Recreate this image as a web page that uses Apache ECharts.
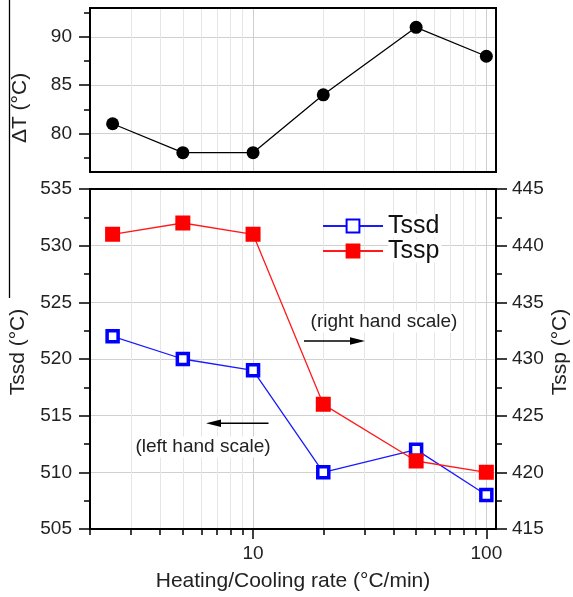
<!DOCTYPE html>
<html>
<head>
<meta charset="utf-8">
<script src="https://cdn.jsdelivr.net/npm/echarts@6/dist/echarts.min.js"></script>
<style>
html,body{margin:0;padding:0;background:#fff;}
#c{width:573px;height:597px;}
</style>
</head>
<body>
<div id="c"></div>
<script>
// ---- data ----
const rates = [2.5, 5, 10, 20, 50, 100];
const deltaT = [81, 78, 78, 84, 91, 88];
const tssd = [522, 520, 519, 510, 512, 508];
const tssp = [441, 442, 441, 426, 421, 420];
const xMajorTicks = [10, 100];
const xMinorTicks = [2, 3, 4, 5, 6, 7, 8, 9, 20, 30, 40, 50, 60, 70, 80, 90];
const dtMajorTicks = [80, 85, 90];
const dtMinorTicks = [77.5, 82.5, 87.5, 92.5];

const FONT = '"Liberation Sans", Arial, Helvetica, sans-serif';
const chart = echarts.init(document.getElementById('c'), null, {renderer: 'canvas'});

function pairs(xs, ys) { return xs.map((x, i) => [x, ys[i]]); }

const tickStyle = {color: '#000', width: 1.5};
const L = 90, W = 406;

function xMain(grid, labels, name) {
  return {
    type: 'log', logBase: 10, gridIndex: grid, min: 2, max: 110, position: 'bottom',
    axisLine: {show: false, onZero: false},
    axisTick: {show: labels, customValues: xMajorTicks, length: 10, lineStyle: tickStyle},
    axisLabel: {show: labels, customValues: xMajorTicks, fontSize: 19, fontFamily: FONT, color: '#222', margin: 15},
    splitLine: {show: true, lineStyle: {color: '#cfcfcf', width: 1}},
    name: name || '', nameLocation: 'middle', nameGap: 42,
    nameTextStyle: {fontSize: 21, fontFamily: FONT, color: '#222'}
  };
}
function xMinor(grid, ticks) {
  return {
    type: 'log', logBase: 10, gridIndex: grid, min: 2, max: 110, position: 'bottom',
    axisLine: {show: false, onZero: false},
    axisTick: {show: ticks, customValues: xMinorTicks, length: 6, lineStyle: tickStyle},
    axisLabel: {show: false},
    splitLine: {show: true, lineStyle: {color: '#e6e6e6', width: 1}}
  };
}

const option = {
  backgroundColor: '#fff',
  animation: false,
  grid: [
    {left: L, top: 8, width: W, height: 164, show: true, borderColor: '#000', borderWidth: 2, z: 3, backgroundColor: 'transparent'},
    {left: L, top: 189, width: W, height: 343, show: true, borderColor: '#000', borderWidth: 2, z: 3, backgroundColor: 'transparent'}
  ],
  xAxis: [
    xMain(0, false), xMinor(0, false),
    xMain(1, true, 'Heating/Cooling rate (°C/min)'), xMinor(1, true)
  ],
  yAxis: [
    {
      type: 'value', gridIndex: 0, min: 76, max: 93, position: 'left',
      axisLine: {show: false},
      axisTick: {show: true, customValues: dtMajorTicks, length: 11, lineStyle: tickStyle},
      axisLabel: {customValues: dtMajorTicks, fontSize: 19, fontFamily: FONT, color: '#222', margin: 18},
      splitLine: {show: true, lineStyle: {color: '#d0d0d0', width: 1}}
    },
    {
      type: 'value', gridIndex: 0, min: 76, max: 93, position: 'left',
      axisLine: {show: false},
      axisTick: {show: true, customValues: dtMinorTicks, length: 6, lineStyle: tickStyle},
      axisLabel: {show: false},
      splitLine: {show: false}
    },
    {
      type: 'value', gridIndex: 1, min: 505, max: 535, interval: 5, position: 'left',
      axisLine: {show: false},
      axisTick: {show: true, length: 11, lineStyle: tickStyle},
      minorTick: {show: true, splitNumber: 2, length: 6, lineStyle: tickStyle},
      axisLabel: {fontSize: 19, fontFamily: FONT, color: '#222', margin: 18},
      splitLine: {show: true, lineStyle: {color: '#d0d0d0', width: 1}}
    },
    {
      type: 'value', gridIndex: 1, min: 415, max: 445, interval: 5, position: 'right',
      axisLine: {show: false},
      axisTick: {show: true, length: 11, lineStyle: tickStyle},
      minorTick: {show: true, splitNumber: 2, length: 6, lineStyle: tickStyle},
      axisLabel: {fontSize: 19, fontFamily: FONT, color: '#222', margin: 16},
      splitLine: {show: false}
    }
  ],
  legend: {
    orient: 'vertical', left: 322, top: 213.5, padding: 0,
    itemWidth: 60, itemHeight: 16, itemGap: 0, z: 10,
    textStyle: {fontSize: 25, fontFamily: FONT, color: '#111', lineHeight: 23,
      backgroundColor: '#fff', padding: [0, 2, 0, 0]},
    data: ['Tssd', 'Tssp']
  },
  series: [
    {
      name: 'ΔT', type: 'line', xAxisIndex: 0, yAxisIndex: 0,
      data: pairs(rates, deltaT),
      symbol: 'circle', symbolSize: 13,
      lineStyle: {color: '#000', width: 1.3},
      itemStyle: {color: '#000'}
    },
    {
      name: 'Tssd', type: 'line', xAxisIndex: 2, yAxisIndex: 2,
      data: pairs(rates, tssd),
      symbol: 'rect', symbolSize: 11,
      lineStyle: {color: '#1a1aff', width: 1.3},
      itemStyle: {color: '#fff', borderColor: '#0000ff', borderWidth: 3.5}
    },
    {
      name: 'Tssp', type: 'line', xAxisIndex: 2, yAxisIndex: 3,
      data: pairs(rates, tssp),
      symbol: 'rect', symbolSize: 12,
      lineStyle: {color: '#ff1a1a', width: 1.3},
      itemStyle: {color: '#ff0000', borderColor: '#ff0000', borderWidth: 3}
    }
  ],
  graphic: [
    {type: 'line', z: 10, shape: {x1: 9.5, y1: 0, x2: 9.5, y2: 298}, style: {stroke: '#000', lineWidth: 1.3}},
    {type: 'text', z: 10, x: 20, y: 108, rotation: Math.PI / 2,
      style: {text: 'ΔT (°C)', fontSize: 21, fontFamily: FONT, fill: '#222', align: 'center', verticalAlign: 'middle'}},
    {type: 'text', z: 10, x: 18.5, y: 352, rotation: Math.PI / 2,
      style: {text: 'Tssd (°C)', fontSize: 21, fontFamily: FONT, fill: '#222', align: 'center', verticalAlign: 'middle'}},
    {type: 'text', z: 10, x: 560, y: 352, rotation: Math.PI / 2,
      style: {text: 'Tssp (°C)', fontSize: 21, fontFamily: FONT, fill: '#222', align: 'center', verticalAlign: 'middle'}},
    {type: 'text', z: 10, x: 384, y: 322,
      style: {text: '(right hand scale)', fontSize: 19, fontFamily: FONT, fill: '#222', align: 'center', verticalAlign: 'middle',
        backgroundColor: '#fff', padding: [1, 3]}},
    {type: 'line', z: 10, shape: {x1: 304, y1: 341, x2: 352, y2: 341}, style: {stroke: '#000', lineWidth: 1.5}},
    {type: 'polygon', z: 10, shape: {points: [[350, 337.3], [365, 341], [350, 344.7]]}, style: {fill: '#000'}},
    {type: 'text', z: 10, x: 203, y: 447,
      style: {text: '(left hand scale)', fontSize: 19, fontFamily: FONT, fill: '#222', align: 'center', verticalAlign: 'middle',
        backgroundColor: '#fff', padding: [1, 3]}},
    {type: 'line', z: 10, shape: {x1: 218, y1: 423.3, x2: 268.5, y2: 423.3}, style: {stroke: '#000', lineWidth: 1.5}},
    {type: 'polygon', z: 10, shape: {points: [[221, 419.6], [206, 423.3], [221, 427]]}, style: {fill: '#000'}}
  ]
};
chart.setOption(option);
</script>
</body>
</html>
